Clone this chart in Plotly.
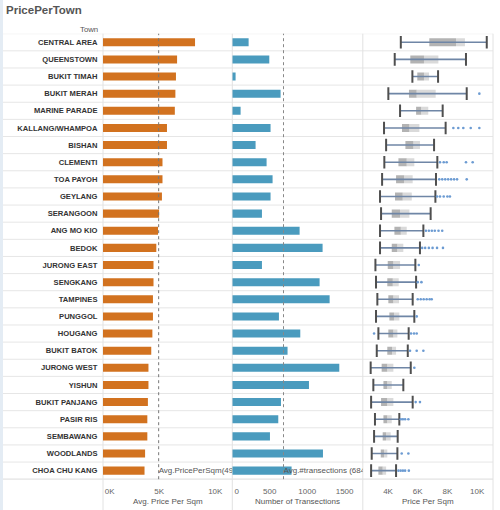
import plotly.graph_objects as go

# ---------------- data ----------------
towns = ["CENTRAL AREA", "QUEENSTOWN", "BUKIT TIMAH", "BUKIT MERAH", "MARINE PARADE",
         "KALLANG/WHAMPOA", "BISHAN", "CLEMENTI", "TOA PAYOH", "GEYLANG", "SERANGOON",
         "ANG MO KIO", "BEDOK", "JURONG EAST", "SENGKANG", "TAMPINES", "PUNGGOL",
         "HOUGANG", "BUKIT BATOK", "JURONG WEST", "YISHUN", "BUKIT PANJANG",
         "PASIR RIS", "SEMBAWANG", "WOODLANDS", "CHOA CHU KANG"]

avg_price_per_sqm = [8200, 6600, 6500, 6450, 6400, 5700, 5700, 5300, 5300, 5250, 5000,
                     4900, 4750, 4500, 4500, 4450, 4450, 4400, 4300, 4050, 4050, 4000,
                     3950, 3950, 3750, 3700]

num_transactions = [218, 494, 44, 645, 111, 511, 311, 458, 538, 511, 396, 899, 1206,
                    396, 1166, 1300, 623, 908, 738, 1429, 1024, 650, 614, 503, 1211, 792]

box_low = [4860, 4450, 5640, 4020, 4810, 3730, 3870, 3750, 3600, 3460, 3530, 3460, 3460,
           3150, 3190, 3280, 3190, 3350, 3240, 2830, 3010, 2860, 3120, 3060, 2900, 2860]
box_q1 = [6780, 5500, 5970, 5410, 5890, 4940, 5170, 4700, 4540, 4470, 4250, 4430, 4250,
          3980, 3950, 4020, 4090, 4020, 3950, 3570, 3690, 3530, 3690, 3640, 3510, 3350]
box_median = [8580, 6420, 6420, 5930, 6240, 5440, 5710, 5260, 5080, 4990, 4810, 4860, 4630,
              4360, 4320, 4360, 4400, 4360, 4270, 3950, 3950, 3950, 3950, 3870, 3730, 3640]
box_q3 = [9180, 7390, 6760, 7210, 6710, 6110, 6150, 5770, 5660, 5600, 5440, 5260, 5030,
          4810, 4720, 4740, 4760, 4630, 4540, 4360, 4250, 4360, 4250, 4180, 3950, 3870]
box_high = [10650, 9250, 7370, 9300, 7680, 7880, 7100, 7320, 7230, 7190, 6870, 6380, 6150,
            5840, 5890, 5660, 5770, 5390, 5330, 5530, 5030, 5660, 4760, 4650, 4630, 4540]

outliers = [
    [], [], [], [10150], [],
    [8400, 8730, 9070, 9570, 10150], [], [7500, 7750, 7950, 9250, 9700],
    [7450, 7650, 7850, 8050, 8250, 8450, 8650, 9300], [7300, 7500, 7750, 8000, 8170], [],
    [6550, 6750, 6950, 7150, 7400, 7650], [6300, 6500, 6750, 7000, 7300, 7700],
    [6070], [6000, 6250], [6000, 6200, 6400, 6600, 6800, 6940], [5930],
    [3060, 5550, 5750, 5930], [5480, 5930, 6380], [5770], [], [5860, 6150],
    [4860, 5000, 5150, 5370], [], [4920, 5370], [4700, 4850, 5000, 5150, 5400],
]

avg_price_ref = 4960
avg_trans_ref = 684

price_ticks = [0, 5000, 10000]
price_ticktext = ["\u00a0\u00a0\u00a0\u00a0\u00a0\u00a00K", "5K", "10K"]
trans_ticks = [0, 500, 1000, 1500]
trans_ticktext = ["\u00a0\u00a0\u00a0\u00a00", "500", "1000", "1500"]
box_ticks = [4000, 6000, 8000, 10000]
box_ticktext = ["4K", "6K", "8K", "10K"]

# ---------------- style ----------------
FONT = "Liberation Sans, Arial, sans-serif"
ORANGE = "#D2721F"
BLUE = "#4A9BBE"
W, H = 500, 510
y_bot = 1 - 479.2 / H
y_top = 1 - 33.7 / H
d1 = [103 / W, 232.3 / W]
d2 = [232.3 / W, 362.8 / W]
d3 = [362.8 / W, 493 / W]

fig = go.Figure()

fig.add_trace(go.Bar(y=towns, x=avg_price_per_sqm, orientation="h", width=0.47,
                     marker=dict(color=ORANGE, line=dict(width=0)),
                     xaxis="x", yaxis="y", showlegend=False, hoverinfo="x+y"))
fig.add_trace(go.Bar(y=towns, x=num_transactions, orientation="h", width=0.47,
                     marker=dict(color=BLUE, line=dict(width=0)),
                     xaxis="x2", yaxis="y", showlegend=False, hoverinfo="x+y"))

# whisker lines
wx, wy = [], []
for t, lo, hi in zip(towns, box_low, box_high):
    wx += [lo, hi, None]
    wy += [t, t, None]
fig.add_trace(go.Scatter(x=wx, y=wy, mode="lines", line=dict(color="#6F86A6", width=1.6),
                         xaxis="x3", yaxis="y", showlegend=False, hoverinfo="skip"))

# boxes
fig.add_trace(go.Bar(y=towns, x=[m - q for m, q in zip(box_median, box_q1)], base=box_q1,
                     orientation="h", width=0.47,
                     marker=dict(color="rgba(150,150,150,0.72)", line=dict(width=0)),
                     xaxis="x3", yaxis="y", showlegend=False, hoverinfo="skip"))
fig.add_trace(go.Bar(y=towns, x=[q - m for q, m in zip(box_q3, box_median)], base=box_median,
                     orientation="h", width=0.47,
                     marker=dict(color="rgba(195,195,195,0.62)", line=dict(width=0)),
                     xaxis="x3", yaxis="y", showlegend=False, hoverinfo="skip"))

# caps
fig.add_trace(go.Scatter(x=box_low + box_high, y=towns + towns, mode="markers",
                         marker=dict(symbol="line-ns", size=9,
                                     line=dict(color="#4F4F4F", width=2)),
                         xaxis="x3", yaxis="y", showlegend=False, hoverinfo="skip"))

# outliers
ox, oy = [], []
for t, lst in zip(towns, outliers):
    for v in lst:
        ox.append(v)
        oy.append(t)
fig.add_trace(go.Scatter(x=ox, y=oy, mode="markers",
                         marker=dict(symbol="circle", size=2.6, color="#6C9BD2"),
                         xaxis="x3", yaxis="y", showlegend=False, hoverinfo="skip"))

# reference-line labels (clipped by their panels)
fig.add_trace(go.Scatter(x=[avg_price_ref], y=[towns[-1]], mode="text",
                         text=[f"Avg.PricePerSqm({avg_price_ref})"], textposition="middle right",
                         textfont=dict(family=FONT, size=8, color="#555"), cliponaxis=True,
                         xaxis="x", yaxis="y", showlegend=False, hoverinfo="skip"))
fig.add_trace(go.Scatter(x=[avg_trans_ref], y=[towns[-1]], mode="text",
                         text=[f"Avg.#transections ({avg_trans_ref})"], textposition="middle right",
                         textfont=dict(family=FONT, size=8, color="#555"), cliponaxis=True,
                         xaxis="x2", yaxis="y", showlegend=False, hoverinfo="skip"))

shapes = []
# left strip
shapes.append(dict(type="rect", xref="paper", yref="paper", x0=0, x1=3 / W, y0=0, y1=1,
                   fillcolor="#E4ECF4", line=dict(width=0), layer="below"))
# row separators
for i in range(len(towns) + 1):
    shapes.append(dict(type="line", xref="paper", yref="y", x0=3 / W, x1=d3[1],
                       y0=i - 0.5, y1=i - 0.5, line=dict(color="#E6E6E6", width=1),
                       layer="below"))
# panel boundary lines
for xp in [d1[0], d2[0], d3[0], d3[1]]:
    shapes.append(dict(type="line", xref="paper", yref="paper", x0=xp, x1=xp,
                       y0=0, y1=y_top, line=dict(color="#E2E2E2", width=1), layer="below"))
# bottom horizontal line
shapes.append(dict(type="line", xref="paper", yref="paper", x0=3 / W, x1=d3[1],
                   y0=y_bot, y1=y_bot, line=dict(color="#E2E2E2", width=1), layer="below"))
# reference lines
shapes.append(dict(type="line", xref="x", yref="paper", x0=avg_price_ref, x1=avg_price_ref,
                   y0=y_bot, y1=y_top, line=dict(color="#777", width=1, dash="dot"), layer="above"))
shapes.append(dict(type="line", xref="x2", yref="paper", x0=avg_trans_ref, x1=avg_trans_ref,
                   y0=y_bot, y1=y_top, line=dict(color="#888", width=1, dash="dot"), layer="above"))

annotations = [
    dict(text="<b>PricePerTown</b>", x=3.5 / W, y=1 - 10 / H, xref="paper", yref="paper",
         xanchor="left", yanchor="middle", showarrow=False,
         font=dict(family=FONT, size=11.5, color="#555")),
    dict(text="Town", x=99.5 / W, y=1 - 29.5 / H, xref="paper", yref="paper",
         xanchor="right", yanchor="middle", showarrow=False,
         font=dict(family=FONT, size=7.8, color="#555")),
    dict(text="Avg. Price Per Sqm", x=(d1[0] + d1[1]) / 2, y=1 - 501 / H, xref="paper",
         yref="paper", xanchor="center", yanchor="middle", showarrow=False,
         font=dict(family=FONT, size=8, color="#555")),
    dict(text="Number of Transections", x=(d2[0] + d2[1]) / 2, y=1 - 501 / H, xref="paper",
         yref="paper", xanchor="center", yanchor="middle", showarrow=False,
         font=dict(family=FONT, size=8, color="#555")),
    dict(text="Price Per Sqm", x=(d3[0] + d3[1]) / 2, y=1 - 501 / H, xref="paper",
         yref="paper", xanchor="center", yanchor="middle", showarrow=False,
         font=dict(family=FONT, size=8, color="#555")),
]

xcommon = dict(showgrid=False, zeroline=False, showline=False, ticks="outside", ticklen=4,
               tickcolor="rgba(0,0,0,0)", tickfont=dict(family=FONT, size=8, color="#666"),
               anchor="y", fixedrange=True, automargin=False)

fig.update_layout(
    width=W, height=H, margin=dict(l=0, r=0, t=0, b=0, pad=0), autosize=False,
    paper_bgcolor="white", plot_bgcolor="rgba(0,0,0,0)",
    barmode="overlay", bargap=0.5,
    xaxis=dict(domain=d1, range=[0, 11520], tickvals=price_ticks, ticktext=price_ticktext,
               **xcommon),
    xaxis2=dict(domain=d2, range=[0, 1743], tickvals=trans_ticks, ticktext=trans_ticktext,
                **xcommon),
    xaxis3=dict(domain=d3, range=[2300, 11070], tickvals=box_ticks, ticktext=box_ticktext,
                **xcommon),
    yaxis=dict(domain=[y_bot, y_top], type="category", categoryorder="array",
               categoryarray=towns, range=[len(towns) - 0.5, -0.5], showgrid=False,
               zeroline=False, showline=False, ticks="outside", ticklen=3,
               tickcolor="rgba(0,0,0,0)", anchor="x", fixedrange=True, automargin=False,
               tickfont=dict(family=FONT, size=7.6, color="#333", weight="bold")),
    shapes=shapes, annotations=annotations,
)

fig.write_html("out.html", config={"displayModeBar": False},
               post_script="document.body.style.margin='0px';document.body.style.overflow='hidden';")
